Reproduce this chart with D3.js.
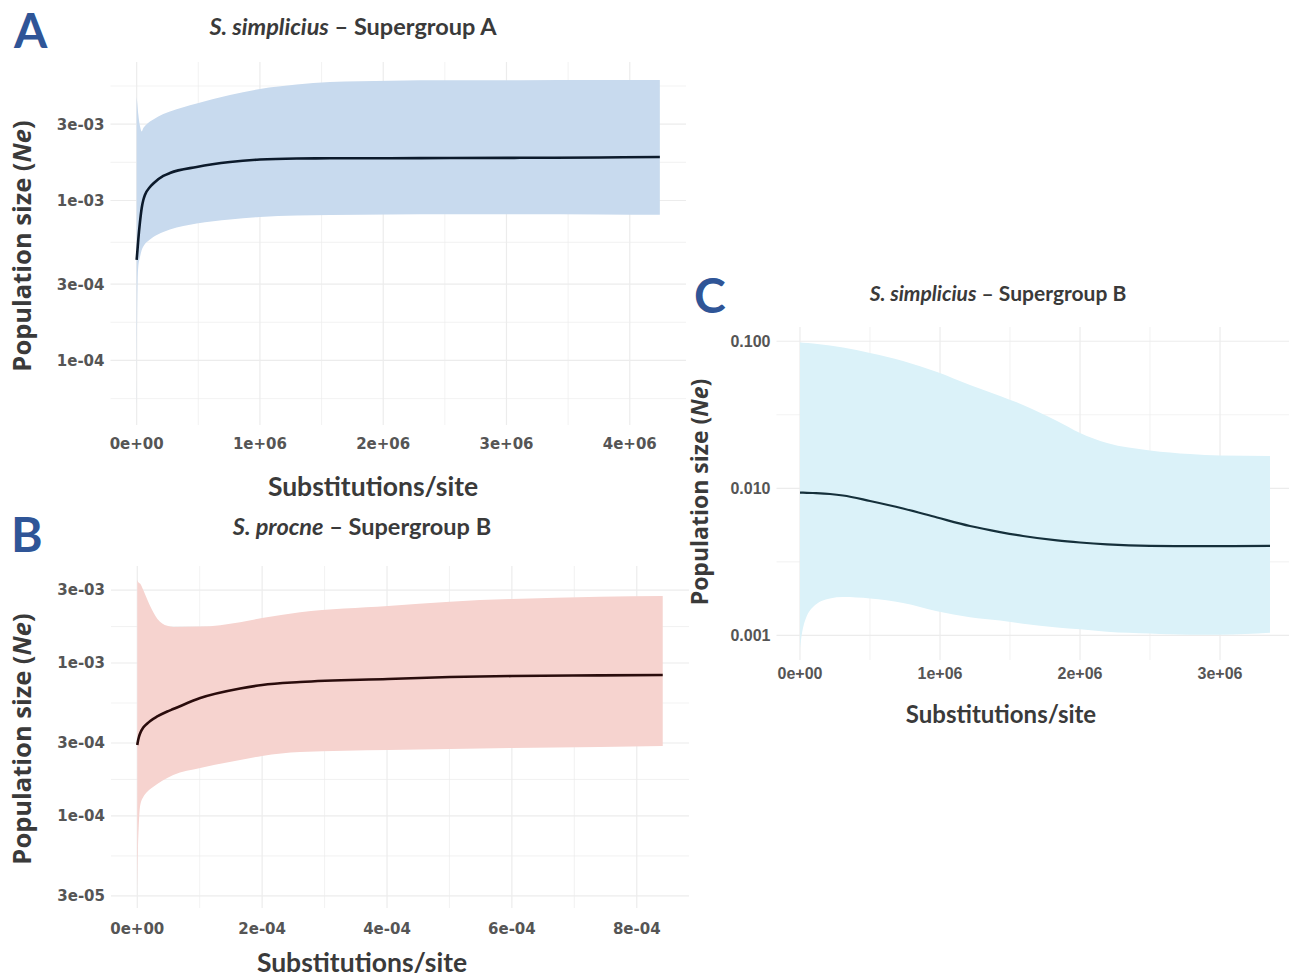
<!DOCTYPE html>
<html>
<head>
<meta charset="utf-8">
<script src="https://cdn.jsdelivr.net/npm/d3@7"></script>
<style>
  body { margin: 0; background: #fff; }
  svg { display: block; }
</style>
</head>
<body>
<svg id="chart"></svg>
<script>
// x in 1e6 substitutions/site (A, C) or 1e-4 (B); y values

// A: S. simplicius - Supergroup A  (x * 1e6, y * 1e-3)
const xA = [0, 0.0065, 0.013, 0.027, 0.041, 0.054, 0.067, 0.108, 0.135, 0.216, 0.27, 0.487, 0.757, 1.0, 1.298, 1.568, 2.055, 2.541, 3.109, 3.758, 4.244]
const medA = [0.425, 0.49, 0.567, 0.734, 0.898, 1.007, 1.082, 1.214, 1.277, 1.423, 1.485, 1.62, 1.74, 1.804, 1.83, 1.835, 1.838, 1.843, 1.848, 1.857, 1.87]
const loA = [0.0527, 0.276, 0.384, 0.443, 0.49, 0.516, 0.535, 0.571, 0.592, 0.636, 0.659, 0.718, 0.761, 0.789, 0.806, 0.812, 0.818, 0.82, 0.82, 0.818, 0.814]
const hiA = [4.456, 3.953, 3.472, 2.922, 2.7, 2.839, 2.922, 3.118, 3.209, 3.472, 3.6, 4.04, 4.564, 4.977, 5.309, 5.503, 5.608, 5.64, 5.647, 5.663, 5.663]

// B: S. procne - Supergroup B  (x * 1e-4, y * 1e-4)
const xB = [0, 0.0112, 0.024, 0.048, 0.096, 0.16, 0.208, 0.32, 0.48, 0.576, 1.008, 1.648, 2.0, 2.608, 4.016, 5.008, 6.0, 7.408, 8.416]
const medB = [2.91, 3.09, 3.26, 3.49, 3.79, 4.02, 4.18, 4.47, 4.82, 5.0, 5.9, 6.81, 7.18, 7.51, 7.86, 8.1, 8.22, 8.3, 8.35]
const loB = [0.31, 0.6, 0.87, 1.18, 1.33, 1.44, 1.5, 1.62, 1.77, 1.85, 2.06, 2.32, 2.47, 2.62, 2.7, 2.74, 2.78, 2.82, 2.87]
const hiB = [35, 34, 33.5, 33, 30, 26, 23.5, 19.5, 17.5, 17.2, 17.3, 18.5, 19.7, 21.5, 23.6, 25.2, 26.2, 27.1, 27.4]

// C: S. simplicius - Supergroup B  (x * 1e6, y as is)
const xC = [0, 0.021, 0.093, 0.214, 0.307, 0.5, 0.736, 0.979, 1.214, 1.429, 1.593, 1.836, 2.0, 2.193, 2.5, 2.786, 3.0, 3.357]
const medC = [0.00936, 0.00935, 0.00929, 0.00915, 0.00894, 0.0082, 0.00729, 0.00633, 0.00554, 0.00504, 0.00474, 0.00442, 0.00428, 0.00416, 0.00406, 0.00404, 0.00404, 0.00406]
const loC = [0.00082, 0.00112, 0.00156, 0.00178, 0.00182, 0.00178, 0.00166, 0.00146, 0.00133, 0.00126, 0.0012, 0.00113, 0.0011, 0.00106, 0.00103, 0.00101, 0.00101, 0.00104]
const hiC = [0.0981, 0.0978, 0.0966, 0.0936, 0.0907, 0.0832, 0.0734, 0.0618, 0.0504, 0.0425, 0.0369, 0.0287, 0.0238, 0.0203, 0.0181, 0.0171, 0.0167, 0.0166]

const xTicksA = [0, 1e6, 2e6, 3e6, 4e6]
const yTicksA = [1e-4, 3e-4, 1e-3, 3e-3]
const xTicksB = [0, 2e-4, 4e-4, 6e-4, 8e-4]
const yTicksB = [3e-5, 1e-4, 3e-4, 1e-3, 3e-3]
const xTicksC = [0, 1e6, 2e6, 3e6]
const yTicksC = [0.001, 0.01, 0.1]

const W = 1289
const H = 977

const sci = (v) => {
  if (v === 0) return '0e+00'
  const e = Math.floor(Math.log10(Math.abs(v)) + 1e-9)
  const m = Math.round(v / Math.pow(10, e))
  return `${m}e${e < 0 ? '-' : '+'}${String(Math.abs(e)).padStart(2, '0')}`
}

const rows = (xs, k, med, lo, hi, s) =>
  xs.map((v, i) => ({ x: v * k, m: med[i] * s, lo: lo[i] * s, hi: hi[i] * s }))

const panels = [
  {
    id: 'A', letter: [14, 48], sp: 'S. simplicius', rest: ' \u2013 Supergroup A', title: [353, 35], tSize: 23.5,
    data: rows(xA, 1e6, medA, loA, hiA, 1e-3),
    left: 110.5, right: 686, top: 62, bottom: 425, ydom: [3.95e-5, 7.34e-3],
    xTicks: xTicksA, yTicks: yTicksA, xFmt: sci, yFmt: sci, tickFont: 'DejaVu Sans', tickSize: 15, tickLabelY: 449,
    xTitle: [373, 496, 26.5], yTitle: [22, 246, 25.5],
    fill: '#c8daee', stroke: '#0c1a2b', lw: 2.6
  },
  {
    id: 'B', letter: [11, 552], sp: 'S. procne', rest: ' \u2013 Supergroup B', title: [362, 535], tSize: 23.5,
    data: rows(xB, 1e-4, medB, loB, hiB, 1e-4),
    left: 111, right: 689, top: 566, bottom: 908, ydom: [2.5e-5, 4.31e-3],
    xTicks: xTicksB, yTicks: yTicksB, xFmt: sci, yFmt: sci, tickFont: 'DejaVu Sans', tickSize: 15, tickLabelY: 934,
    xTitle: [362, 972, 26.5], yTitle: [22, 739, 25.5],
    fill: '#f6d3cf', stroke: '#2a0c0c', lw: 2.6
  },
  {
    id: 'C', letter: [694, 313], sp: 'S. simplicius', rest: ' \u2013 Supergroup B', title: [998, 301], tSize: 21,
    data: rows(xC, 1e6, medC, loC, hiC, 1),
    left: 776.5, right: 1293.5, top: 327, bottom: 660, ydom: [6.8e-4, 0.125],
    xTicks: xTicksC, yTicks: yTicksC, xFmt: sci, yFmt: d3.format('.3f'), tickFont: 'Liberation Sans', tickSize: 16, tickLabelY: 679,
    xTitle: [1001, 723, 24], yTitle: [700, 492, 23],
    fill: '#dbf2f9', stroke: '#15303b', lw: 2.2
  }
]

const svg = d3
  .select('#chart')
  .attr('width', W)
  .attr('height', H)

svg.append('rect').attr('width', W).attr('height', H).attr('fill', '#fff')

panels.forEach((p) => {
  const xmax = d3.max(p.data, d => d.x)
  const x = d3.scaleLinear()
    .domain([-0.05 * xmax, 1.05 * xmax])
    .range([p.left, p.right])
  const y = d3.scaleLog()
    .domain(p.ydom)
    .range([p.bottom, p.top])

  const g = svg.append('g')

  // minor breaks: midpoints between majors (log space for y), one step beyond each end
  const xs = p.xTicks
  const xStep = xs[1] - xs[0]
  const xMinor = d3.range(xs[0] - xStep / 2, xs[xs.length - 1] + xStep, xStep)
    .filter(v => v >= x.domain()[0] && v <= x.domain()[1])
  const ys = p.yTicks
  const yMinor = d3.pairs(ys).map(([a, b]) => Math.sqrt(a * b))
  yMinor.unshift(ys[0] / Math.sqrt(ys[1] / ys[0]))
  yMinor.push(ys[ys.length - 1] * Math.sqrt(ys[ys.length - 1] / ys[ys.length - 2]))
  const yMinorIn = yMinor.filter(v => v >= p.ydom[0] && v <= p.ydom[1])

  const grid = g.append('g').attr('stroke', '#ececec').attr('fill', 'none')
  grid.selectAll('line.xmin')
    .data(xMinor)
    .enter()
    .append('line')
    .attr('x1', d => x(d)).attr('x2', d => x(d))
    .attr('y1', p.top).attr('y2', p.bottom)
    .attr('stroke-width', 0.7)
  grid.selectAll('line.ymin')
    .data(yMinorIn)
    .enter()
    .append('line')
    .attr('x1', p.left).attr('x2', p.right)
    .attr('y1', d => y(d)).attr('y2', d => y(d))
    .attr('stroke-width', 0.7)
  grid.selectAll('line.xmaj')
    .data(xs)
    .enter()
    .append('line')
    .attr('x1', d => x(d)).attr('x2', d => x(d))
    .attr('y1', p.top).attr('y2', p.bottom)
    .attr('stroke-width', 1.2)
  grid.selectAll('line.ymaj')
    .data(ys)
    .enter()
    .append('line')
    .attr('x1', p.left).attr('x2', p.right)
    .attr('y1', d => y(d)).attr('y2', d => y(d))
    .attr('stroke-width', 1.2)

  const clipId = 'clip' + p.id
  svg.append('defs')
    .append('clipPath')
    .attr('id', clipId)
    .append('rect')
    .attr('x', p.left).attr('y', p.top)
    .attr('width', p.right - p.left)
    .attr('height', p.bottom - p.top)

  g.append('path')
    .datum(p.data)
    .attr('clip-path', `url(#${clipId})`)
    .attr('fill', p.fill)
    .attr('d', d3.area()
      .curve(d3.curveMonotoneX)
      .x(d => x(d.x))
      .y0(d => y(d.lo))
      .y1(d => y(d.hi)))

  g.append('path')
    .datum(p.data)
    .attr('clip-path', `url(#${clipId})`)
    .attr('fill', 'none')
    .attr('stroke', p.stroke)
    .attr('stroke-width', p.lw)
    .attr('stroke-linejoin', 'round')
    .attr('d', d3.line()
      .curve(d3.curveMonotoneX)
      .x(d => x(d.x))
      .y(d => y(d.m)))

  // tick labels
  g.append('g')
    .selectAll('text')
    .data(xs)
    .enter()
    .append('text')
    .attr('x', d => x(d))
    .attr('y', p.tickLabelY)
    .attr('text-anchor', 'middle')
    .attr('font-family', p.tickFont)
    .attr('font-weight', 'bold')
    .attr('font-size', p.tickSize)
    .attr('fill', '#555')
    .text(p.xFmt)
  g.append('g')
    .selectAll('text')
    .data(ys)
    .enter()
    .append('text')
    .attr('x', p.left - 6)
    .attr('y', d => y(d))
    .attr('dy', '0.36em')
    .attr('text-anchor', 'end')
    .attr('font-family', p.tickFont)
    .attr('font-weight', 'bold')
    .attr('font-size', p.tickSize)
    .attr('fill', '#555')
    .text(p.yFmt)

  // axis titles
  g.append('text')
    .attr('x', p.xTitle[0])
    .attr('y', p.xTitle[1])
    .attr('text-anchor', 'middle')
    .attr('font-family', 'Lato, sans-serif')
    .attr('font-weight', 'bold')
    .attr('font-size', p.xTitle[2])
    .attr('fill', '#3a3a3a')
    .text('Substitutions/site')

  const yt = g.append('text')
    .attr('transform', `translate(${p.yTitle[0]},${p.yTitle[1]}) rotate(-90)`)
    .attr('dy', '0.35em')
    .attr('text-anchor', 'middle')
    .attr('font-family', '"Open Sans", sans-serif')
    .attr('font-weight', 'bold')
    .attr('font-size', p.yTitle[2])
    .attr('fill', '#3a3a3a')
  yt.append('tspan').text('Population size (')
  yt.append('tspan').attr('font-style', 'italic').text('Ne')
  yt.append('tspan').text(')')

  // panel title
  const tt = g.append('text')
    .attr('x', p.title[0])
    .attr('y', p.title[1])
    .attr('text-anchor', 'middle')
    .attr('font-family', 'Lato, sans-serif')
    .attr('font-weight', 'bold')
    .attr('font-size', p.tSize)
    .attr('fill', '#3a3a3a')
  tt.append('tspan').attr('font-style', 'italic').text(p.sp)
  tt.append('tspan').text(p.rest)

  // panel letter
  g.append('text')
    .attr('x', p.letter[0])
    .attr('y', p.letter[1])
    .attr('font-family', 'Lato, sans-serif')
    .attr('font-weight', 'bold')
    .attr('font-size', 48)
    .attr('fill', '#2f5597')
    .text(p.id)
})
</script>
</body>
</html>
